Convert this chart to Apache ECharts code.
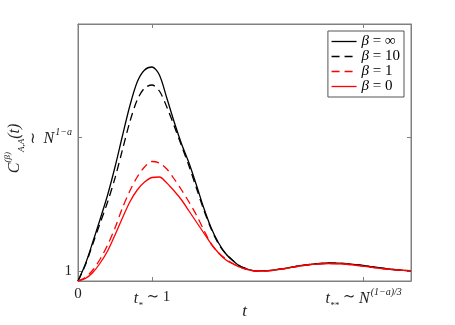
<!DOCTYPE html>
<html>
<head>
<meta charset="utf-8" />
<script src="https://cdn.jsdelivr.net/npm/echarts@6/dist/echarts.min.js"></script>
</head>
<body style="margin:0">
<div id="main" style="width:455px;height:325px"></div>
<script type="text/javascript">
// time samples (axis units: t* = 1)
var tVals = [0, 0.1, 0.2, 0.3, 0.4, 0.5, 0.6, 0.7, 0.8, 0.9, 1.0, 1.1, 1.2, 1.3, 1.4, 1.5, 1.6, 1.7, 1.8, 1.9, 2.0, 2.1, 2.2, 2.4, 2.6, 2.8, 3.0, 3.2, 3.4, 3.6, 3.8, 4.0, 4.2, 4.4, 4.5];

var cInf  = [0, 1.7, 3.9, 6.2, 8.6, 11.4, 14.5, 17.5, 19.9, 21.1, 21.4, 20.6, 18.3, 15.9, 13.7, 11.8, 9.6, 7.3, 5.3, 3.8, 2.7, 2.0, 1.45, 1.02, 1.06, 1.27, 1.53, 1.72, 1.8, 1.76, 1.6, 1.4, 1.2, 1.07, 1.04];
var cTen  = [0, 1.6, 3.7, 5.8, 7.9, 10.3, 13.1, 15.9, 18.1, 19.3, 19.6, 19.0, 17.4, 15.5, 13.5, 11.5, 9.3, 7.1, 5.2, 3.7, 2.7, 2.0, 1.45, 1.02, 1.06, 1.27, 1.52, 1.7, 1.78, 1.74, 1.58, 1.38, 1.19, 1.07, 1.04];
var cOne  = [0, 0.35, 1.1, 2.2, 3.6, 5.3, 7.3, 9.0, 10.4, 11.4, 11.95, 11.8, 11.2, 10.2, 9.1, 7.9, 6.6, 5.1, 3.7, 2.8, 2.2, 1.7, 1.35, 1.0, 1.04, 1.25, 1.5, 1.68, 1.75, 1.7, 1.53, 1.34, 1.17, 1.06, 1.03];
var cZero = [0, 0.25, 0.85, 1.8, 3.0, 4.6, 6.3, 7.9, 9.1, 9.9, 10.35, 10.4, 9.8, 9.0, 8.1, 7.0, 5.9, 4.8, 3.7, 2.8, 2.1, 1.7, 1.35, 1.0, 1.04, 1.25, 1.5, 1.68, 1.75, 1.7, 1.53, 1.34, 1.17, 1.06, 1.03];

var seriesNames = ['β = ∞', 'β = 10', 'β = 1', 'β = 0'];
var seriesColors = ['#000000', '#000000', '#ff0000', '#ff0000'];
var seriesDash = ['solid', [8, 5], [8, 5], 'solid'];

var xTicks = [0, 1, 3.86];
var xTickLabels = ['0', '{i|t}{sb|*} ∼ 1', '{i|t}{sb|**} ∼ {i|N}{sp|(1−a)/3}'];
var yTicks = [1, 14.4];
var yTickLabels = ['1', '{tl|≀}  {i|N}{sp|1−a}'];

var serif = '"Liberation Serif", "DejaVu Serif", serif';
var richMath = {
    i: { fontFamily: serif, fontStyle: 'italic', fontSize: 16, color: '#222', lineHeight: 20, verticalAlign: 'bottom' },
    sb: { fontFamily: serif, fontStyle: 'italic', fontSize: 9, color: '#222', lineHeight: 20, verticalAlign: 'bottom', padding: [0, 0, -3, 0] },
    sp: { fontFamily: serif, fontStyle: 'italic', fontSize: 10, color: '#222', lineHeight: 20, verticalAlign: 'top', padding: [0, 0, 0, 1] },
    tl: { fontFamily: serif, fontSize: 15, color: '#222', lineHeight: 20, verticalAlign: 'bottom' }
};

function zip(ys) {
    return tVals.map(function (x, i) { return [x, ys[i]]; });
}
var allData = [cInf, cTen, cOne, cZero];

function tickLabel(vals, labels) {
    return function (v) {
        for (var i = 0; i < vals.length; i++) {
            if (Math.abs(vals[i] - v) < 1e-6) return labels[i];
        }
        return '';
    };
}

var axisCol = '#808080';
var chart = echarts.init(document.getElementById('main'));

var option = {
    animation: false,
    backgroundColor: '#fff',
    grid: {
        left: 78, right: 44, top: 24, bottom: 44, outerBoundsMode: 'none',
        show: true, borderColor: axisCol, borderWidth: 1, backgroundColor: 'transparent'
    },
    legend: {
        orient: 'vertical',
        right: 51, top: 31,
        itemWidth: 25, itemHeight: 10, itemGap: 0,
        padding: [3, 4, 3, 3],
        borderColor: '#555', borderWidth: 1,
        backgroundColor: '#fff',
        itemStyle: { opacity: 0 },
        lineStyle: { width: 1.3 },
        data: seriesNames,
        formatter: function (name) { return '{i|β}{n|' + name.slice(1) + '}'; },
        textStyle: {
            lineHeight: 14,
            rich: {
                i: { fontFamily: serif, fontStyle: 'italic', fontSize: 15, color: '#000', lineHeight: 14 },
                n: { fontFamily: serif, fontSize: 15, color: '#000', lineHeight: 14 }
            }
        }
    },
    xAxis: [{
        type: 'value', min: 0, max: 4.5,
        name: 't', nameLocation: 'middle', nameGap: 22, nameMoveOverlap: false,
        nameTextStyle: { fontFamily: serif, fontStyle: 'italic', fontSize: 17, color: '#222' },
        axisLine: { onZero: false, lineStyle: { color: axisCol } },
        axisTick: { inside: true, length: 4, customValues: xTicks.slice(1), lineStyle: { color: axisCol } },
        axisLabel: {
            customValues: xTicks, margin: 6,
            fontFamily: serif, fontSize: 15, color: '#222',
            formatter: tickLabel(xTicks, xTickLabels), rich: richMath
        },
        splitLine: { show: false }
    }, {
        type: 'value', min: 0, max: 4.5, position: 'top',
        axisLine: { show: true, onZero: false, lineStyle: { color: axisCol } },
        axisTick: { show: true, inside: true, length: 4, customValues: xTicks.slice(1), lineStyle: { color: axisCol } },
        axisLabel: { show: false },
        splitLine: { show: false }
    }],
    yAxis: [{
        type: 'value', min: 0, max: 25.7,
        name: '{w|}{c|C}{sp|(β)}{sb|A,A}{c|(t)}', nameLocation: 'middle', nameGap: 55, nameMoveOverlap: false,
        nameTextStyle: {
            rich: {
                w: { width: 8 },
                c: { fontFamily: serif, fontStyle: 'italic', fontSize: 16, color: '#222', lineHeight: 20, verticalAlign: 'bottom' },
                sp: { fontFamily: serif, fontStyle: 'italic', fontSize: 9, color: '#222', lineHeight: 20, verticalAlign: 'top' },
                sb: { fontFamily: serif, fontStyle: 'italic', fontSize: 9, color: '#222', lineHeight: 20, verticalAlign: 'bottom', padding: [0, 0, -3, 0] }
            }
        },
        axisLine: { show: true, onZero: false, lineStyle: { color: axisCol } },
        axisTick: { show: true, inside: true, length: 4, customValues: yTicks, lineStyle: { color: axisCol } },
        axisLabel: {
            customValues: yTicks, margin: 6,
            fontFamily: serif, fontSize: 15, color: '#222',
            formatter: tickLabel(yTicks, yTickLabels), rich: richMath
        },
        splitLine: { show: false }
    }, {
        type: 'value', min: 0, max: 25.7, position: 'right',
        axisLine: { show: true, onZero: false, lineStyle: { color: axisCol } },
        axisTick: { show: true, inside: true, length: 4, customValues: yTicks, lineStyle: { color: axisCol } },
        axisLabel: { show: false },
        splitLine: { show: false }
    }],
    series: seriesNames.map(function (name, k) {
        return {
            name: name,
            type: 'line',
            smooth: 0.3,
            symbol: 'none',
            data: zip(allData[k]),
            itemStyle: { color: seriesColors[k] },
            lineStyle: { color: seriesColors[k], width: 1.3, type: seriesDash[k] }
        };
    })
};

chart.setOption(option);
</script>
</body>
</html>
